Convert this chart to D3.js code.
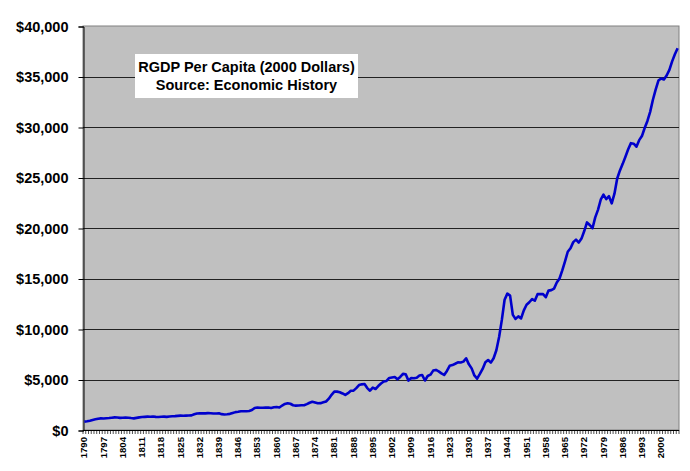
<!DOCTYPE html>
<html>
<head>
<meta charset="utf-8">
<script src="https://cdn.jsdelivr.net/npm/d3@7"></script>
<style>
  html, body { margin: 0; padding: 0; background: #ffffff; }
  svg { display: block; font-family: "Liberation Sans", Arial, sans-serif; }
</style>
</head>
<body>
<svg id="chart" width="690" height="471"></svg>
<script>
// ---- data ----
const startYear = 1790;
const endYear = 2006;
const years = d3.range(startYear, endYear + 1);
const rgdp = [
  830, 860, 920, 990, 1060, 1120, 1150, 1140, 1170, 1190,        // 1790s
  1220, 1250, 1230, 1200, 1210, 1240, 1220, 1180, 1150, 1200,    // 1800s
  1250, 1280, 1300, 1320, 1310, 1330, 1300, 1290, 1310, 1320,    // 1810s
  1300, 1330, 1360, 1370, 1400, 1420, 1410, 1420, 1430, 1450,    // 1820s
  1560, 1640, 1650, 1660, 1650, 1670, 1660, 1630, 1640, 1650,    // 1830s
  1570, 1540, 1560, 1600, 1690, 1770, 1800, 1850, 1860, 1850,    // 1840s
  1880, 1980, 2180, 2220, 2210, 2200, 2220, 2230, 2180, 2250,    // 1850s
  2280, 2230, 2420, 2580, 2650, 2600, 2450, 2410, 2430, 2450,    // 1860s
  2450, 2560, 2700, 2800, 2730, 2650, 2660, 2740, 2820, 3100,    // 1870s
  3480, 3800, 3800, 3740, 3620, 3470, 3650, 3880, 3900, 4150,    // 1880s
  4450, 4520, 4550, 4150, 3890, 4200, 4060, 4350, 4600, 4800,    // 1890s
  4860, 5150, 5200, 5250, 5020, 5250, 5560, 5520, 4890, 5150,    // 1900s
  5120, 5180, 5400, 5450, 4900, 5350, 5480, 5880, 5950, 5800,    // 1910s
  5610, 5450, 5850, 6350, 6430, 6560, 6700, 6680, 6770, 7100,    // 1920s
  6500, 6100, 5400, 5080, 5550, 6050, 6700, 6930, 6665, 7100,    // 1930s
  7900, 9200, 10900, 12900, 13500, 13300, 11400, 11000, 11250, 11050, // 1940s
  11850, 12400, 12650, 12960, 12800, 13450, 13470, 13450, 13150, 13800, // 1950s
  13850, 14000, 14600, 15000, 15800, 16700, 17650, 18000, 18600, 18850, // 1960s
  18560, 18950, 19700, 20550, 20300, 19980, 21050, 21800, 22800, 23300, // 1970s
  22860, 23150, 22440, 23400, 24900, 25700, 26350, 27060, 27800, 28400, // 1980s
  28350, 28050, 28700, 29100, 29900, 30600, 31500, 32700, 33700, 34600, // 1990s
  34800, 34700, 35100, 35650, 36500, 37200, 37800                 // 2000s
];
const yTicks = [0, 5000, 10000, 15000, 20000, 25000, 30000, 35000, 40000];
const xLabelYears = d3.range(1790, 2001, 7);
const titleLines = ["RGDP Per Capita (2000 Dollars)", "Source: Economic History"];

const data = years.map((y, i) => ({ year: y, value: rgdp[i] }));

// ---- layout ----
const svg = d3.select("#chart");
const plot = { left: 83, right: 679, top: 26, bottom: 430 };

const x = d3.scaleBand().domain(years).range([plot.left, plot.right]).padding(0);
const bw = x.bandwidth();
const y = d3.scaleLinear().domain([0, 40000]).range([plot.bottom, plot.top]);

// plot background
svg.append("rect")
  .attr("x", plot.left).attr("y", plot.top)
  .attr("width", plot.right - plot.left).attr("height", plot.bottom - plot.top)
  .attr("fill", "#c0c0c0")
  .attr("stroke", "#808080").attr("stroke-width", 1);

// gridlines
svg.append("g").selectAll("line")
  .data(yTicks.filter(t => t > 0 && t < 40000))
  .join("line")
  .attr("x1", plot.left).attr("x2", plot.right)
  .attr("y1", d => Math.round(y(d)) + 0.5).attr("y2", d => Math.round(y(d)) + 0.5)
  .attr("stroke", "#222").attr("stroke-width", 1);

// y axis
const yAxis = d3.axisLeft(y).tickValues(yTicks).tickSize(5).tickPadding(10)
  .tickFormat(d => d3.format("$,")(d));
const gy = svg.append("g").attr("transform", `translate(${plot.left + 0.5},0.5)`).call(yAxis);
gy.select(".domain").attr("stroke", "#000");
gy.selectAll(".tick line").attr("stroke", "#000");
gy.selectAll(".tick text")
  .attr("font-size", "14.5px").attr("font-weight", "bold").attr("fill", "#000")
  .attr("font-family", "'Liberation Sans', Arial, sans-serif");

// x axis line
svg.append("line")
  .attr("x1", plot.left).attr("x2", plot.right)
  .attr("y1", plot.bottom + 0.5).attr("y2", plot.bottom + 0.5)
  .attr("stroke", "#000").attr("stroke-width", 1);

// minor ticks at category boundaries
svg.append("g").selectAll("line")
  .data(years.concat([endYear + 1]))
  .join("line")
  .attr("x1", d => (d <= endYear ? x(d) : x(endYear) + bw))
  .attr("x2", d => (d <= endYear ? x(d) : x(endYear) + bw))
  .attr("y1", plot.bottom).attr("y2", plot.bottom + 4)
  .attr("stroke", "#000").attr("stroke-width", 0.7);

// x labels
svg.append("g").selectAll("text")
  .data(xLabelYears)
  .join("text")
  .attr("transform", d => `translate(${x(d) + bw / 2 - 0.3},${plot.bottom + 7}) rotate(-90)`)
  .attr("text-anchor", "end")
  .attr("dy", "0.35em")
  .attr("font-size", "9.6px").attr("font-weight", "bold").attr("fill", "#000")
  .text(d => d);

// line
const line = d3.line()
  .x(d => x(d.year) + bw / 2)
  .y(d => y(d.value));
svg.append("path")
  .datum(data)
  .attr("fill", "none")
  .attr("stroke", "#0000cc")
  .attr("stroke-width", 2.6)
  .attr("stroke-linejoin", "round")
  .attr("d", line);

// title box
const tb = svg.append("g");
tb.append("rect")
  .attr("x", 135).attr("y", 54).attr("width", 223).attr("height", 44)
  .attr("fill", "#ffffff");
tb.selectAll("text")
  .data(titleLines)
  .join("text")
  .attr("x", 246.5)
  .attr("y", (d, i) => 72 + i * 18)
  .attr("text-anchor", "middle")
  .attr("font-size", "14.5px").attr("font-weight", "bold").attr("fill", "#000")
  .text(d => d);
</script>
</body>
</html>
